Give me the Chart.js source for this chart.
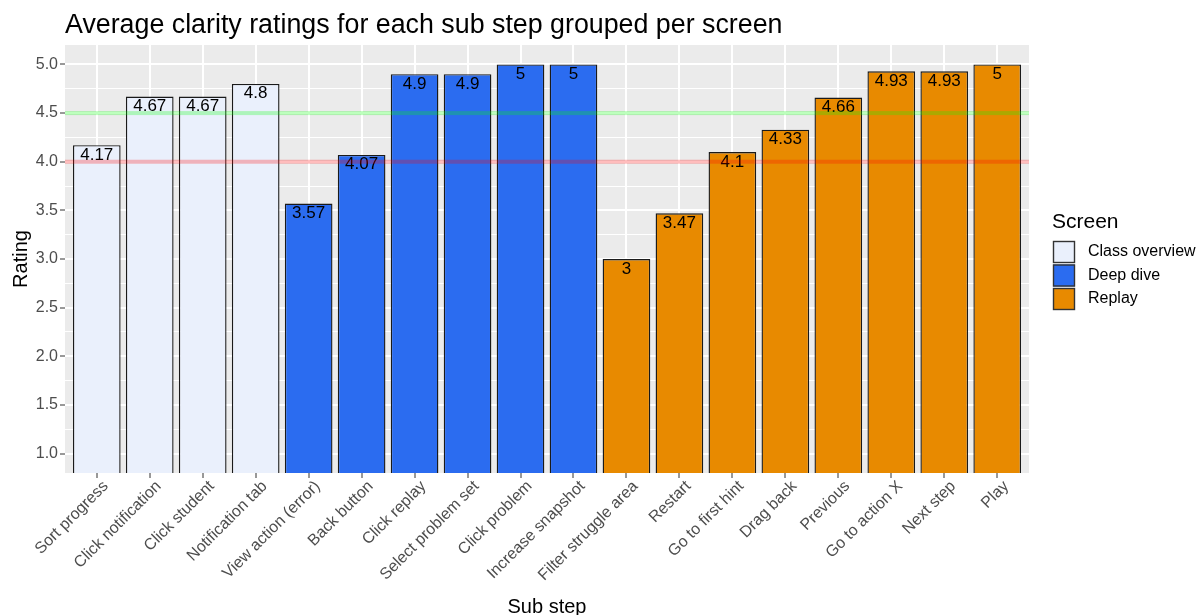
<!DOCTYPE html>
<html>
<head>
<meta charset="utf-8">
<script src="https://cdn.jsdelivr.net/npm/chart.js@4.4.1/dist/chart.umd.min.js"></script>
<style>
  html, body { margin: 0; padding: 0; background: #ffffff; }
  #wrap { width: 1202px; height: 615px; }
</style>
</head>
<body>
<div id="wrap"><canvas id="chart" width="1202" height="615"></canvas></div>
<script>
// Sub steps, in plotting order
const subSteps = [
  "Sort progress", "Click notification", "Click student", "Notification tab",
  "View action (error)", "Back button", "Click replay", "Select problem set",
  "Click problem", "Increase snapshot", "Filter struggle area", "Restart",
  "Go to first hint", "Drag back", "Previous", "Go to action X", "Next step", "Play"
];

// Mean clarity rating of each sub step
const ratings = [
  4.17, 4.67, 4.67, 4.8,
  3.57, 4.07, 4.9, 4.9, 5, 5,
  3, 3.47, 4.1, 4.33, 4.66, 4.93, 4.93, 5
];

// Screen each sub step belongs to
const screens = [
  "Class overview", "Class overview", "Class overview", "Class overview",
  "Deep dive", "Deep dive", "Deep dive", "Deep dive", "Deep dive", "Deep dive",
  "Replay", "Replay", "Replay", "Replay", "Replay", "Replay", "Replay", "Replay"
];

const screenNames = ["Class overview", "Deep dive", "Replay"];

// Rating axis breaks
const majorTicks = [1.0, 1.5, 2.0, 2.5, 3.0, 3.5, 4.0, 4.5, 5.0];
const minorTicks = [1.25, 1.75, 2.25, 2.75, 3.25, 3.75, 4.25, 4.75];

// Reference thresholds
const thresholds = [4.0, 4.5];

// ---- styling ----
const FONT = "'Liberation Sans', Arial, Helvetica, sans-serif";
const screenFill = {
  "Class overview": "#EAF0FC",
  "Deep dive": "#2B6CF0",
  "Replay": "#E88A00"
};
const thresholdColors = ["rgba(255, 0, 0, 0.26)", "rgba(0, 255, 0, 0.26)"];
const PANEL_BG = "#EBEBEB";
const AXIS_TEXT = "#4D4D4D";
const TICK_COLOR = "#333333";

Chart.defaults.font.family = FONT;

const isMajor = v => majorTicks.some(m => Math.abs(m - v) < 1e-9);

// grey panel behind the grid
const panelPlugin = {
  id: "panelBackground",
  beforeDraw(chart) {
    const { ctx, chartArea: a } = chart;
    ctx.save();
    ctx.fillStyle = "#ffffff";
    ctx.fillRect(0, 0, chart.width, chart.height);
    ctx.fillStyle = PANEL_BG;
    ctx.fillRect(a.left, a.top, a.right - a.left, a.bottom - a.top);
    ctx.restore();
  }
};

// value labels inside the bar tops, then the threshold lines
const overlayPlugin = {
  id: "overlay",
  afterDatasetsDraw(chart) {
    const { ctx, chartArea: a } = chart;
    const meta = chart.getDatasetMeta(0);
    const yScale = chart.scales.y;
    ctx.save();
    ctx.font = "17px " + FONT;
    ctx.fillStyle = "#000000";
    ctx.textAlign = "center";
    ctx.textBaseline = "alphabetic";
    meta.data.forEach((el, i) => {
      ctx.fillText(String(ratings[i]), el.x, el.y + 14.5);
    });
    thresholds.forEach((v, i) => {
      const y = yScale.getPixelForValue(v);
      ctx.fillStyle = thresholdColors[i];
      ctx.fillRect(a.left, y - 2, a.right - a.left, 4);
    });
    ctx.restore();
  }
};

// title and fill legend
const annotationPlugin = {
  id: "annotations",
  afterDraw(chart) {
    const { ctx, chartArea: a } = chart;
    ctx.save();
    ctx.fillStyle = "#000000";
    ctx.textAlign = "left";
    ctx.textBaseline = "alphabetic";
    ctx.font = "26.8px " + FONT;
    ctx.fillText("Average clarity ratings for each sub step grouped per screen", a.left, 33);

    const lx = a.right + 23;
    ctx.font = "21px " + FONT;
    ctx.fillText("Screen", lx, 228);

    ctx.font = "16px " + FONT;
    ctx.textBaseline = "middle";
    screenNames.forEach((name, i) => {
      const ky = 241 + i * 23.5;
      ctx.fillStyle = screenFill[name];
      ctx.fillRect(lx + 1, ky, 22, 22);
      ctx.strokeStyle = "#333333";
      ctx.lineWidth = 1.4;
      ctx.strokeRect(lx + 1.5, ky + 0.5, 21, 21);
      ctx.fillStyle = "#000000";
      ctx.fillText(name, lx + 36, ky + 11);
    });
    ctx.restore();
  }
};

new Chart(document.getElementById("chart"), {
  type: "bar",
  data: {
    datasets: [{
      data: ratings.map((v, i) => ({ x: i + 1, y: v })),
      backgroundColor: screens.map(s => screenFill[s]),
      borderColor: "#1A1A1A",
      borderWidth: 1.4,
      borderSkipped: "start",
      categoryPercentage: 0.9,
      barPercentage: 1.0,
      clip: 0
    }]
  },
  options: {
    responsive: false,
    animation: false,
    devicePixelRatio: 1,
    layout: { padding: { left: 0, top: 45, right: 173, bottom: 0 } },
    plugins: {
      legend: { display: false },
      tooltip: { enabled: false },
      title: { display: false }
    },
    scales: {
      x: {
        type: "linear",
        min: 0.4,
        max: 18.6,
        offset: false,
        afterBuildTicks(scale) {
          scale.ticks = subSteps.map((_, i) => ({ value: i + 1 }));
        },
        afterFit(scale) { scale.height = 142; },
        border: { display: false },
        grid: {
          offset: false,
          color: "#ffffff",
          lineWidth: 2,
          drawTicks: true,
          tickLength: 5,
          tickWidth: 1,
          tickColor: TICK_COLOR
        },
        ticks: {
          autoSkip: false,
          minRotation: 45,
          maxRotation: 45,
          padding: -1,
          labelOffset: 9,
          color: AXIS_TEXT,
          font: { size: 16 },
          callback: v => subSteps[Math.round(v) - 1]
        },
        title: {
          display: true,
          text: "Sub step",
          color: "#000000",
          font: { size: 20 },
          padding: { top: 0, bottom: -4 }
        }
      },
      y: {
        type: "linear",
        min: 0.8,
        max: 5.2,
        afterBuildTicks(scale) {
          scale.ticks = majorTicks.concat(minorTicks)
            .sort((p, q) => p - q)
            .map(v => ({ value: v }));
        },
        afterFit(scale) { scale.width = 65; },
        border: { display: false },
        grid: {
          color: "#ffffff",
          lineWidth: c => (isMajor(c.tick.value) ? 2 : 1),
          drawTicks: true,
          tickLength: 5,
          tickWidth: 1,
          tickColor: c => (isMajor(c.tick.value) ? TICK_COLOR : "rgba(0,0,0,0)")
        },
        ticks: {
          padding: 2,
          color: AXIS_TEXT,
          font: { size: 16 },
          callback: v => (isMajor(v) ? v.toFixed(1) : "")
        },
        title: {
          display: true,
          text: "Rating",
          color: "#000000",
          font: { size: 20 },
          padding: { top: 9, bottom: 0 }
        }
      }
    }
  },
  plugins: [panelPlugin, overlayPlugin, annotationPlugin]
});
</script>
</body>
</html>
